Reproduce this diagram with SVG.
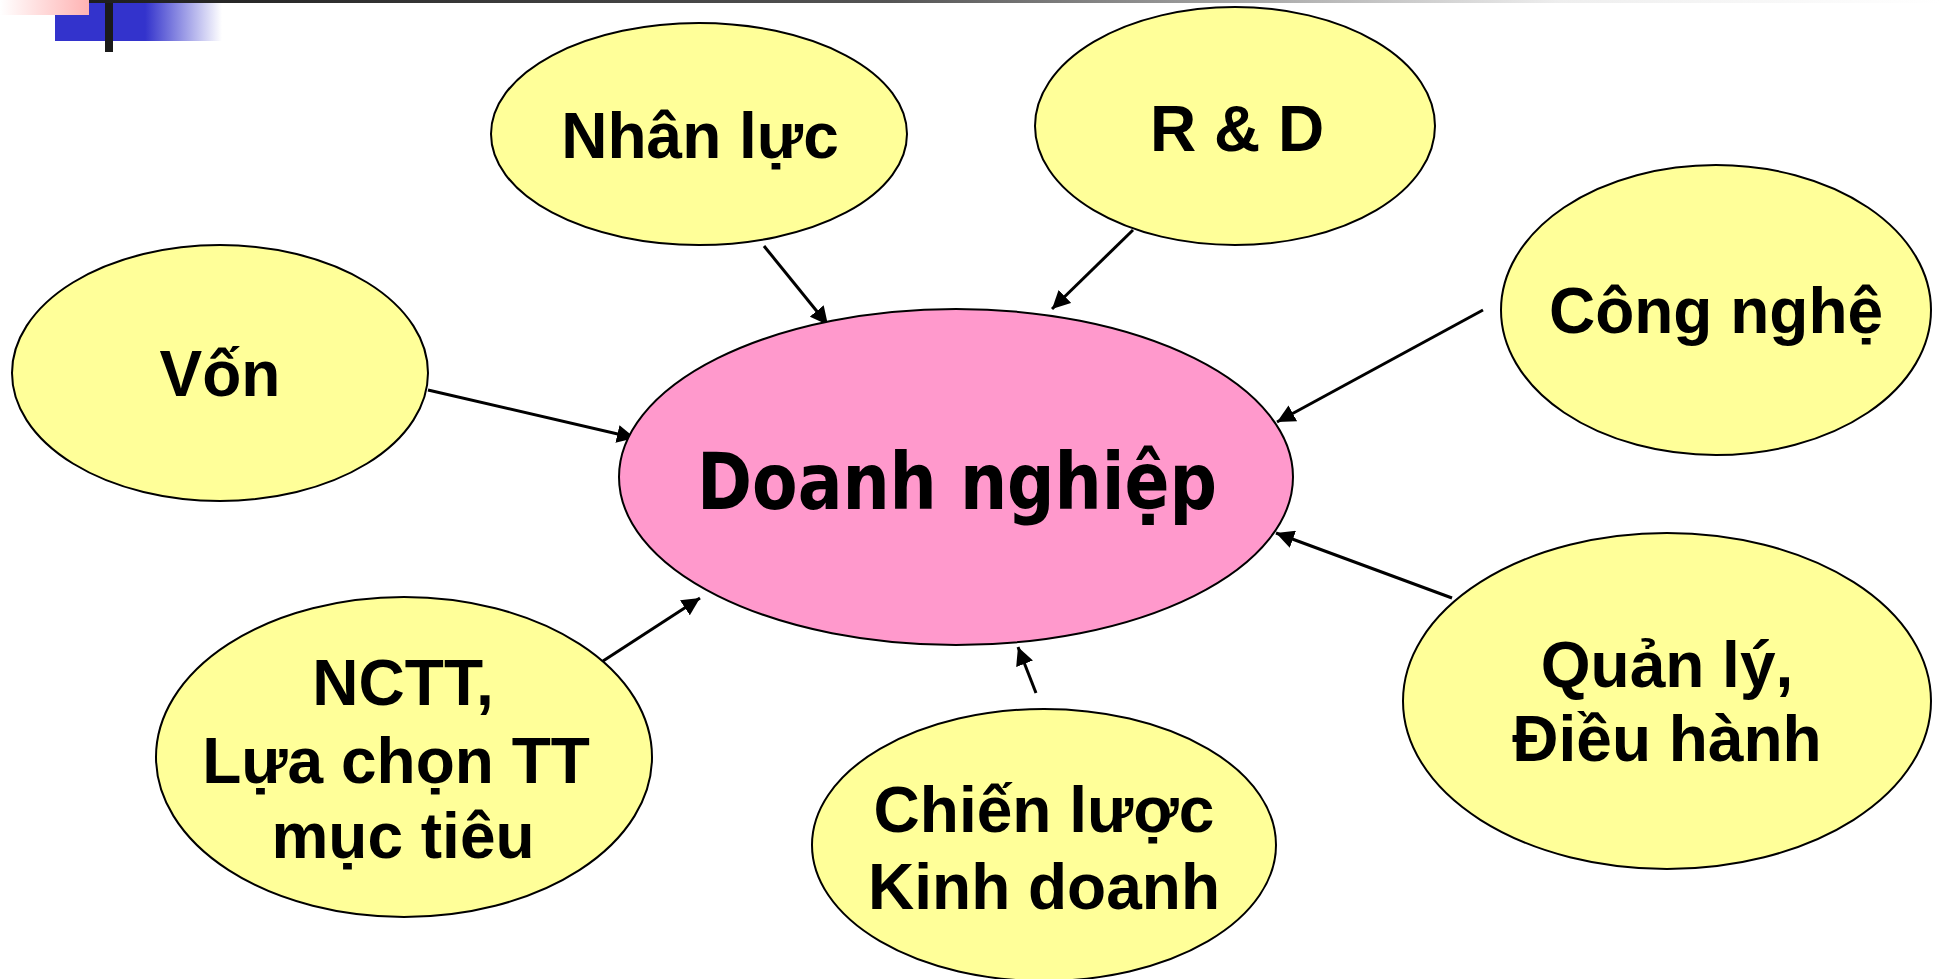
<svg xmlns="http://www.w3.org/2000/svg" width="1941" height="979" viewBox="0 0 1941 979">
  <style>
    .node { fill: #FFFF99; stroke: #000; stroke-width: 2; }
    .core { fill: #FF99CC; stroke: #000; stroke-width: 2; }
    .lbl { font-family: "Liberation Sans", Arial, sans-serif; font-weight: bold; font-size: 64px; fill: #000; text-anchor: middle; }
    .big { font-family: "DejaVu Sans Condensed", "DejaVu Sans", sans-serif; font-stretch: condensed; font-weight: bold; font-size: 78px; fill: #000; text-anchor: middle; }
    .link { stroke: #000; stroke-width: 3; fill: none; marker-end: url(#arrow); }
  </style>
  <defs>
    <marker id="arrow" markerUnits="userSpaceOnUse" markerWidth="20" markerHeight="18" refX="18" refY="9" orient="auto">
      <path d="M0,0 L18,9 L0,18 Z" fill="#000"/>
    </marker>
    <linearGradient id="topLine" x1="0" y1="0" x2="1" y2="0">
      <stop offset="0" stop-color="#1a1a1a"/>
      <stop offset="0.45" stop-color="#555"/>
      <stop offset="0.8" stop-color="#eee"/>
      <stop offset="1" stop-color="#fff"/>
    </linearGradient>
    <linearGradient id="pinkFade" x1="0" y1="0" x2="1" y2="0">
      <stop offset="0" stop-color="#fff"/>
      <stop offset="1" stop-color="#ffb3b3"/>
    </linearGradient>
    <linearGradient id="blueFade" x1="0" y1="0" x2="1" y2="0">
      <stop offset="0" stop-color="#3333cc"/>
      <stop offset="0.54" stop-color="#3333cc"/>
      <stop offset="1" stop-color="#fff"/>
    </linearGradient>
  </defs>

  <rect width="1941" height="979" fill="#fff"/>

  <!-- title bar ornament -->
  <g id="ornament">
    <rect x="32" y="0" width="1909" height="3" fill="url(#topLine)"/>
    <rect x="55" y="3" width="167" height="38" fill="url(#blueFade)"/>
    <rect x="0" y="0" width="89" height="15" fill="url(#pinkFade)"/>
    <rect x="105" y="3" width="8" height="49" fill="#1a1a1a"/>
  </g>

  <!-- connectors -->
  <g id="connectors">
    <line class="link" x1="764" y1="246" x2="828" y2="325"/>
    <line class="link" x1="1133" y1="230" x2="1052" y2="309"/>
    <line class="link" x1="1483" y1="310" x2="1277" y2="422"/>
    <line class="link" x1="428" y1="390" x2="635" y2="438"/>
    <line class="link" x1="603" y1="661" x2="700" y2="598"/>
    <line class="link" x1="1036" y1="693" x2="1018" y2="647"/>
    <line class="link" x1="1452" y1="598" x2="1276" y2="533"/>
  </g>

  <g id="doanh-nghiep">
    <ellipse class="core" cx="956" cy="477" rx="337" ry="168"/>
    <text class="big" x="957" y="509" textLength="520" lengthAdjust="spacingAndGlyphs">Doanh nghiệp</text>
  </g>

  <g id="nhan-luc">
    <ellipse class="node" cx="699" cy="134" rx="208" ry="111"/>
    <text class="lbl" x="700" y="158">Nhân lực</text>
  </g>

  <g id="r-and-d">
    <ellipse class="node" cx="1235" cy="126" rx="200" ry="119"/>
    <text class="lbl" x="1237" y="151">R &amp; D</text>
  </g>

  <g id="cong-nghe">
    <ellipse class="node" cx="1716" cy="310" rx="215" ry="145"/>
    <text class="lbl" x="1716" y="333">Công nghệ</text>
  </g>

  <g id="von">
    <ellipse class="node" cx="220" cy="373" rx="208" ry="128"/>
    <text class="lbl" x="220" y="396">Vốn</text>
  </g>

  <g id="nctt">
    <ellipse class="node" cx="404" cy="757" rx="248" ry="160"/>
    <text class="lbl" x="403" y="705">NCTT,</text>
    <text class="lbl" x="396" y="783">Lựa chọn TT</text>
    <text class="lbl" x="403" y="858">mục tiêu</text>
  </g>

  <g id="chien-luoc">
    <ellipse class="node" cx="1044" cy="845" rx="232" ry="136"/>
    <text class="lbl" x="1044" y="832">Chiến lược</text>
    <text class="lbl" x="1044" y="909">Kinh doanh</text>
  </g>

  <g id="quan-ly">
    <ellipse class="node" cx="1667" cy="701" rx="264" ry="168"/>
    <text class="lbl" x="1667" y="687">Quản lý,</text>
    <text class="lbl" x="1667" y="761">Điều hành</text>
  </g>
</svg>
